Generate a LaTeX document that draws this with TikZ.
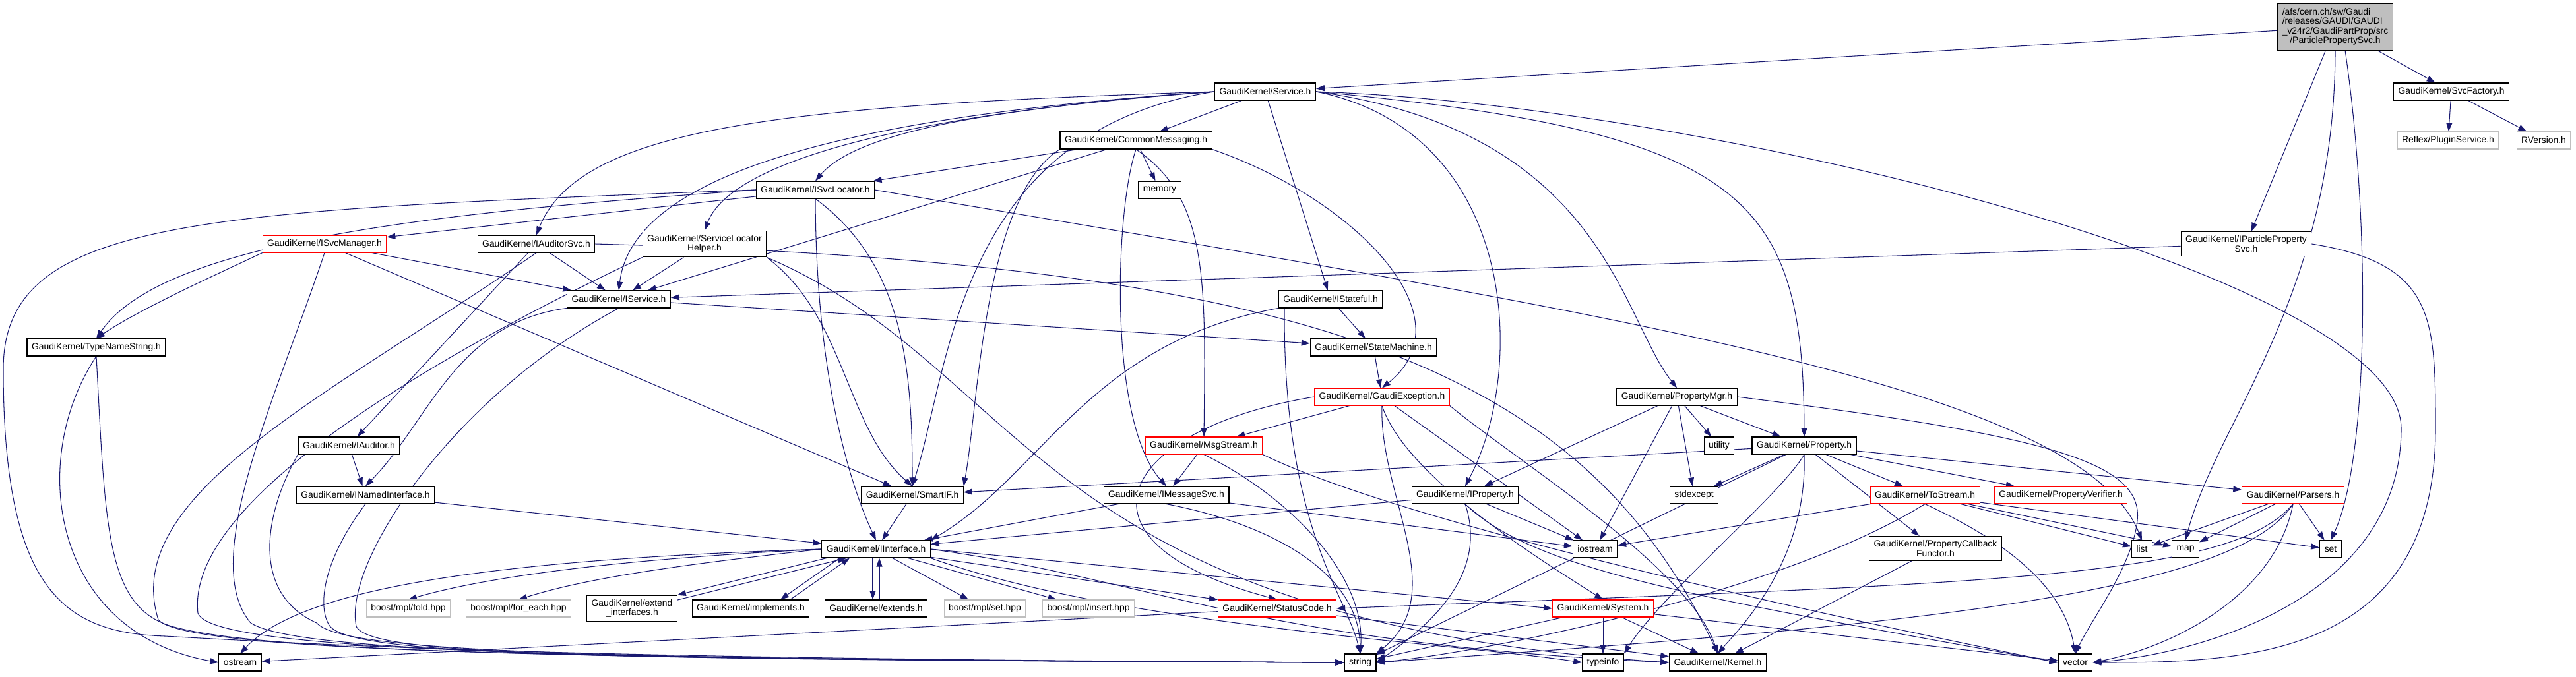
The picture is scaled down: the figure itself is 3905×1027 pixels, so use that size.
\documentclass[tikz,border=0pt]{standalone}
\usepackage{fontspec}
\setmainfont{Liberation Sans}
\usetikzlibrary{arrows.meta}

\definecolor{incblue}{HTML}{191970}
\definecolor{extgray}{HTML}{BFBFBF}

\pgfdeclarelayer{edgelayer}
\pgfsetlayers{edgelayer,main}

\tikzset{
  hdr/.style={draw=black, fill=white, line width=0.6pt, inner xsep=0.14cm, inner ysep=0.125cm,
    minimum height=0.52cm, align=center, font=\fontsize{7.9pt}{8.2pt}\selectfont},
  hdrred/.style={hdr, draw=red},
  hdrext/.style={hdr, draw=extgray},
  inc/.style={draw=incblue, line width=0.6pt, -{Triangle[length=0.26cm,width=0.18cm]}},
}

\begin{document}
\begin{tikzpicture}[x=0.02cm,y=-0.02cm]
            \useasboundingbox (0,0) rectangle (3905,1027);

            \node[hdr, fill=extgray] (ppsvc) at (3540,41) {\begin{tabular}{@{}l@{}}/afs/cern.ch/sw/Gaudi\\/releases/GAUDI/GAUDI\\\_v24r2/GaudiPartProp/src\\\multicolumn{1}{@{}c@{}}{/ParticlePropertySvc.h}\end{tabular}};
            \node[hdr] (service) at (1918,139) {GaudiKernel/Service.h};
            \node[hdr] (svcfactory) at (3716,139) {GaudiKernel/SvcFactory.h};
            \node[hdrext] (pluginsvc) at (3711,213) {Reflex/PluginService.h};
            \node[hdrext] (rversion) at (3856,213) {RVersion.h};
            \node[hdr] (commsg) at (1722,213) {GaudiKernel/CommonMessaging.h};
            \node[hdr] (memory) at (1758,288) {memory};
            \node[hdr] (isvcloc) at (1236,288) {GaudiKernel/ISvcLocator.h};
            \node[hdrred] (isvcman) at (492,370) {GaudiKernel/ISvcManager.h};
            \node[hdr] (iaudsvc) at (813,370) {GaudiKernel/IAuditorSvc.h};
            \node[hdr] (slhelper) at (1068,370) {GaudiKernel/ServiceLocator\\Helper.h};
            \node[hdr] (ippsvc) at (3405,370) {GaudiKernel/IParticleProperty\\Svc.h};
            \node[hdr] (iservice) at (938,454) {GaudiKernel/IService.h};
            \node[hdr] (istateful) at (2017,454) {GaudiKernel/IStateful.h};
            \node[hdr] (typename) at (146,527) {GaudiKernel/TypeNameString.h};
            \node[hdr] (statemach) at (2082,527) {GaudiKernel/StateMachine.h};
            \node[hdrred] (gexc) at (2095,602) {GaudiKernel/GaudiException.h};
            \node[hdr] (propmgr) at (2542,602) {GaudiKernel/PropertyMgr.h};
            \node[hdr] (iauditor) at (529,676) {GaudiKernel/IAuditor.h};
            \node[hdrred] (msgstream) at (1825,676) {GaudiKernel/MsgStream.h};
            \node[hdr] (utility) at (2606,676) {utility};
            \node[hdr] (property) at (2735,676) {GaudiKernel/Property.h};
            \node[hdr] (inamed) at (554,751) {GaudiKernel/INamedInterface.h};
            \node[hdr] (smartif) at (1383,751) {GaudiKernel/SmartIF.h};
            \node[hdr] (imsgsvc) at (1768,751) {GaudiKernel/IMessageSvc.h};
            \node[hdr] (iproperty) at (2221,751) {GaudiKernel/IProperty.h};
            \node[hdr] (stdexcept) at (2568,751) {stdexcept};
            \node[hdrred] (tostream) at (2918,751) {GaudiKernel/ToStream.h};
            \node[hdrred] (propverif) at (3124,751) {GaudiKernel/PropertyVerifier.h};
            \node[hdrred] (parsers) at (3476,751) {GaudiKernel/Parsers.h};
            \node[hdr] (iinterface) at (1328,833) {GaudiKernel/IInterface.h};
            \node[hdr] (iostream) at (2418,833) {iostream};
            \node[hdr] (propcb) at (2934,832) {GaudiKernel/PropertyCallback\\Functor.h};
            \node[hdr] (list) at (3247,833) {list};
            \node[hdr] (map) at (3313,833) {map};
            \node[hdr] (set) at (3533,833) {set};
            \node[hdrext] (mplfold) at (619,923) {boost/mpl/fold.hpp};
            \node[hdrext] (mplforeach) at (786,923) {boost/mpl/for\_each.hpp};
            \node[hdr] (extendif) at (958,923) {GaudiKernel/extend\\\_interfaces.h};
            \node[hdr] (implements) at (1138,923) {GaudiKernel/implements.h};
            \node[hdr] (extends) at (1328,923) {GaudiKernel/extends.h};
            \node[hdrext] (mplset) at (1493,923) {boost/mpl/set.hpp};
            \node[hdrext] (mplinsert) at (1650,923) {boost/mpl/insert.hpp};
            \node[hdrred] (statuscode) at (1936,923) {GaudiKernel/StatusCode.h};
            \node[hdrred] (system) at (2430,923) {GaudiKernel/System.h};
            \node[hdr] (ostream) at (364,1005) {ostream};
            \node[hdr] (string) at (2062,1005) {string};
            \node[hdr] (typeinfo) at (2430,1005) {typeinfo};
            \node[hdr] (kernel) at (2604,1005) {GaudiKernel/Kernel.h};
            \node[hdr] (vector) at (3146,1005) {vector};

            \begin{pgfonlayer}{edgelayer}
            \draw[inc] (ppsvc) -- (service);
            \draw[inc] (ppsvc) -- (svcfactory);
            \draw[inc] (ppsvc) -- (ippsvc);
            \draw[inc] (ppsvc.south) .. controls (3539,450) and (3360,640) .. (map.north);
            \draw[inc] ([xshift=0.3cm]ppsvc.south) .. controls (3595,350) and (3590,700) .. (set.north);
            \draw[inc] (svcfactory) -- (pluginsvc);
            \draw[inc] (svcfactory) -- (rversion);

            \draw[inc] (service.west) .. controls (1200,160) and (880,190) .. (iaudsvc.north);
            \draw[inc] (service.west) .. controls (1300,175) and (960,260) .. (iservice.north);
            \draw[inc] (service.west) .. controls (1400,170) and (1110,240) .. (slhelper.north);
            \draw[inc] (service.west) .. controls (1500,165) and (1300,200) .. (isvcloc.north);
            \draw[inc] (service.west) .. controls (1450,200) and (1440,560) .. (smartif.north);
            \draw[inc] (service) -- (commsg);
            \draw[inc] (service) -- (istateful);
            \draw[inc] (service.east) .. controls (2650,200) and (2733,300) .. (property.north);
            \draw[inc] (service.east) .. controls (2430,200) and (2456,480) .. (propmgr.north);
            \draw[inc] (service.east) .. controls (2300,200) and (2316,560) .. (iproperty.north);
            \draw[inc] (service.east) .. controls (2600,160) and (3640,420) .. (3640,650) .. controls (3640,900) and (3350,990) .. (vector.east);

            \draw[inc] (commsg) -- (isvcloc);
            \draw[inc] (commsg) -- (iservice);
            \draw[inc] (commsg) -- (memory);
            \draw[inc] (commsg.south west) .. controls (1490,300) and (1483,620) .. (smartif.north east);
            \draw[inc] (commsg.south) .. controls (1690,320) and (1680,640) .. (imsgsvc.north);
            \draw[inc] (commsg.south) .. controls (1830,300) and (1828,420) .. (msgstream.north);
            \draw[inc] (commsg.south east) .. controls (2050,300) and (2230,480) .. (gexc.north);

            \draw[inc] (isvcloc.west) .. controls (700,320) and (250,360) .. (typename.north);
            \draw[inc] (isvcloc.west) .. controls (300,320) and (5,330) .. (5,560) .. controls (5,900) and (100,960) .. (250,965) .. controls (600,985) and (1000,1000) .. (string.west);
            \draw[inc] (isvcloc) -- (isvcman);
            \draw[inc] (isvcloc.south) .. controls (1237,600) and (1300,760) .. (iinterface.north);
            \draw[inc] (isvcloc.south) .. controls (1370,400) and (1383,560) .. (smartif.north);
            \draw[inc] (isvcloc.east) .. controls (2400,470) and (3150,580) .. (list.north);

            \draw[inc] (isvcman.south west) .. controls (320,420) and (210,470) .. (typename.north);
            \draw[inc] (isvcman.south) .. controls (420,600) and (300,850) .. (380,945) .. controls (450,990) and (900,1000) .. (string.west);
            \draw[inc] (isvcman) -- (smartif);
            \draw[inc] (isvcman) -- (iservice);

            \draw[inc] (iaudsvc) -- (iservice);
            \draw[inc] (iaudsvc) -- (iauditor);
            \draw[inc] (iaudsvc.south) .. controls (500,600) and (180,750) .. (240,940) .. controls (280,990) and (900,1000) .. (string.west);
            \draw[inc] (iaudsvc.east) .. controls (2000,400) and (2400,560) .. (kernel.north);

            \draw[inc] (slhelper) -- (iservice);
            \draw[inc] (slhelper.south east) .. controls (1282,480) and (1282,650) .. (smartif.north);
            \draw[inc] (slhelper.south west) .. controls (700,520) and (280,750) .. (300,930) .. controls (320,990) and (900,1000) .. (string.west);
            \draw[inc] (slhelper.south east) .. controls (1560,560) and (1560,940) .. (kernel.west);

            \draw[inc] (ippsvc) -- (iservice);
            \draw[inc] (ippsvc.east) .. controls (3690,400) and (3692,480) .. (3692,650) .. controls (3692,1000) and (3400,1005) .. (vector.east);

            \draw[inc] (iservice) -- (statemach);
            \draw[inc] (iservice.south west) .. controls (690,490) and (650,640) .. (inamed.north);
            \draw[inc] (iservice.south) .. controls (690,600) and (520,850) .. (540,950) .. controls (560,995) and (900,1000) .. (string.west);

            \draw[inc] (istateful) -- (statemach);
            \draw[inc] (istateful.south west) .. controls (1650,520) and (1580,720) .. (iinterface.north east);
            \draw[inc] ([xshift=-1.4cm]istateful.south) .. controls (1945,800) and (2040,900) .. (string.north);

            \draw[inc] (typename.south) .. controls (40,700) and (80,960) .. (ostream.west);
            \draw[inc] (typename.south) .. controls (160,800) and (160,920) .. (260,950) .. controls (400,990) and (900,1000) .. (string.west);

            \draw[inc] (statemach) -- (gexc);

            \draw[inc] (gexc) -- (msgstream);
            \draw[inc] (gexc.west) .. controls (1700,650) and (1600,820) .. (statuscode.north);
            \draw[inc] (gexc.south) .. controls (2090,750) and (2200,900) .. (string.north east);
            \draw[inc] (gexc) -- (iostream);
            \draw[inc] (gexc.south) .. controls (2130,720) and (2320,840) .. (system.north);
            \draw[inc] (gexc.south east) .. controls (2300,700) and (2560,860) .. (kernel.north);

            \draw[inc] (propmgr) -- (iproperty);
            \draw[inc] (propmgr) -- (iostream);
            \draw[inc] (propmgr) -- (stdexcept);
            \draw[inc] (propmgr) -- (utility);
            \draw[inc] (propmgr) -- (property);
            \draw[inc] (propmgr.east) .. controls (3100,660) and (3250,700) .. (3240,790) .. controls (3232,860) and (3170,940) .. (vector.north);

            \draw[inc] (iauditor) -- (inamed);
            \draw[inc] (iauditor.south west) .. controls (400,780) and (380,900) .. (480,945) .. controls (520,990) and (900,1000) .. (string.west);

            \draw[inc] (msgstream) -- (imsgsvc);
            \draw[inc] (msgstream.south) .. controls (1950,750) and (2070,870) .. (string.north);
            \draw[inc] (msgstream.south east) .. controls (2100,780) and (2600,900) .. (vector.west);

            \draw[inc] (property) -- (smartif);
            \draw[inc] (property) -- (stdexcept);
            \draw[inc] (property) -- (string);
            \draw[inc] (property.south) .. controls (2700,750) and (2520,900) .. (typeinfo.north east);
            \draw[inc] (property.south) .. controls (2740,850) and (2640,950) .. (kernel.north);
            \draw[inc] (property) -- (tostream);
            \draw[inc] (property) -- (propcb);
            \draw[inc] (property) -- (propverif);
            \draw[inc] (property) -- (parsers);

            \draw[inc] (inamed) -- (iinterface);
            \draw[inc] (inamed.south) .. controls (490,850) and (480,920) .. (500,950) .. controls (540,995) and (900,1000) .. (string.west);
            \draw[inc] (smartif) -- (iinterface);
            \draw[inc] (imsgsvc) -- (iinterface);
            \draw[inc] (imsgsvc) -- (iostream);
            \draw[inc] (imsgsvc.south) .. controls (1950,800) and (2060,880) .. (string.north);

            \draw[inc] (iproperty) -- (iinterface);
            \draw[inc] (iproperty) -- (iostream);
            \draw[inc] (iproperty.south) .. controls (2260,880) and (2150,960) .. (string.east);
            \draw[inc] (iproperty.south) .. controls (2330,870) and (2600,910) .. (vector.west);

            \draw[inc] (tostream) -- (iostream);
            \draw[inc] (tostream.south) .. controls (2700,900) and (2250,990) .. (string.east);
            \draw[inc] (tostream) -- (list);
            \draw[inc] (tostream) -- (map);
            \draw[inc] (tostream) -- (set);
            \draw[inc] (tostream.south) .. controls (3060,830) and (3130,900) .. (vector.north);

            \draw[inc] (parsers) -- (list);
            \draw[inc] (parsers) -- (map);
            \draw[inc] (parsers) -- (set);
            \draw[inc] (parsers.south) .. controls (3450,900) and (3300,980) .. (vector.east);
            \draw[inc] (parsers.south) .. controls (3380,880) and (3000,885) .. (statuscode.east);
            \draw[inc] (parsers.south) .. controls (3390,900) and (2900,950) .. (string.east);

            \draw[inc] (propcb) -- (kernel);

            \draw[inc] (iinterface.west) .. controls (700,850) and (450,900) .. (ostream.north);
            \draw[inc] (iinterface.west) .. controls (900,850) and (720,880) .. (mplfold.north);
            \draw[inc] (iinterface.west) .. controls (1000,860) and (880,880) .. (mplforeach.north);
            \draw[inc] ([xshift=-1.5cm]iinterface.south) -- (extendif.north east);
            \draw[inc] ([yshift=-0.15cm]extendif.north east) -- ([xshift=-0.9cm]iinterface.south);
            \draw[inc] ([xshift=-1.1cm]iinterface.south) -- ([xshift=0.9cm]implements.north);
            \draw[inc] ([xshift=1.2cm]implements.north) -- ([xshift=-0.8cm]iinterface.south);
            \draw[inc] ([xshift=-0.1cm]iinterface.south) -- ([xshift=-0.1cm]extends.north);
            \draw[inc] ([xshift=0.1cm]extends.north) -- ([xshift=0.1cm]iinterface.south);
            \draw[inc] (iinterface) -- (mplset);
            \draw[inc] (iinterface) -- (mplinsert);
            \draw[inc] (iinterface) -- (statuscode);
            \draw[inc] (iinterface.east) -- (system.west);
            \draw[inc] (iinterface.south east) .. controls (1700,950) and (2200,975) .. (typeinfo.west);
            \draw[inc] (iinterface.east) .. controls (1750,880) and (1900,975) .. (kernel.west);

            \draw[inc] (statuscode) -- (ostream);
            \draw[inc] (statuscode) -- (kernel);

            \draw[inc] (system) -- (string);
            \draw[inc] (system) -- (typeinfo);
            \draw[inc] (system) -- (kernel);
            \draw[inc] (system) -- (vector);
            \end{pgfonlayer}
        \end{tikzpicture}
\end{document}
